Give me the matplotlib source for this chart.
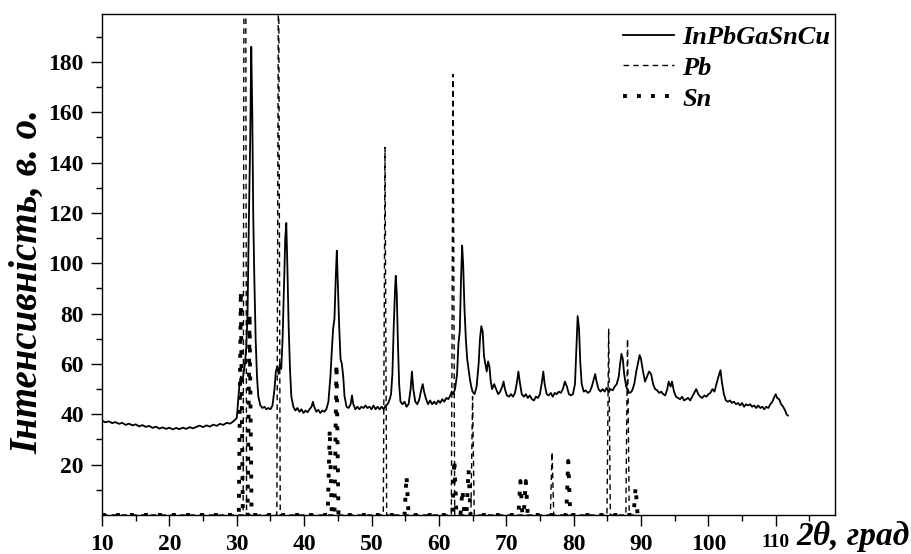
import matplotlib
matplotlib.use("Agg")
import matplotlib.pyplot as plt
import numpy as np

# Дифрактограма зразка InPbGaSnCu (точки)
theta_exp = [10, 10.5, 11, 11.5, 12, 12.5, 13, 13.5, 14, 14.5, 15, 15.5, 16, 16.5, 17, 17.5, 18, 18.5, 19, 19.5,
             20, 20.5, 21, 21.5, 22, 22.5, 23, 23.5, 24, 24.5, 25, 25.5, 26, 26.5, 27, 27.5, 28, 28.5, 29, 29.5,
             30, 30.2, 30.4, 30.6, 30.8, 31.0, 31.2, 31.4, 31.6, 31.8, 32.0, 32.15, 32.3, 32.45, 32.6, 32.8,
             33.0, 33.2, 33.5, 33.8, 34.1, 34.4, 34.7, 35.0, 35.3, 35.6, 35.8, 36.0, 36.2, 36.4, 36.6, 36.8,
             37.0, 37.2, 37.35, 37.5, 37.7, 37.9, 38.1, 38.4, 38.7, 39.0, 39.3, 39.6, 39.9, 40.2, 40.5, 40.8,
             41.1, 41.3, 41.5, 41.8, 42.1, 42.4, 42.7, 43.0, 43.3, 43.6, 43.9, 44.1, 44.3, 44.5, 44.7, 44.85,
             45.0, 45.2, 45.4, 45.6, 45.8, 46.0, 46.3, 46.6, 46.9, 47.1, 47.3, 47.6, 47.9, 48.2, 48.5, 48.8,
             49.1, 49.4, 49.7, 50.0, 50.3, 50.6, 50.9, 51.2, 51.5, 51.8, 52.1, 52.4, 52.7, 52.9, 53.1, 53.3,
             53.5, 53.6, 53.75, 53.9, 54.1, 54.3, 54.6, 54.9, 55.2, 55.5, 55.8, 56.0, 56.2, 56.5, 56.8, 57.1,
             57.4, 57.6, 57.8, 58.1, 58.4, 58.7, 59.0, 59.3, 59.6, 59.9, 60.2, 60.5, 60.8, 61.1, 61.4, 61.7,
             61.9, 62.1, 62.4, 62.7, 62.9, 63.1, 63.3, 63.45, 63.6, 63.8, 64.0, 64.2, 64.4, 64.6, 64.8, 65.0,
             65.3, 65.6, 65.9, 66.1, 66.3, 66.5, 66.7, 66.9, 67.1, 67.3, 67.5, 67.7, 67.9, 68.2, 68.5, 68.8,
             69.1, 69.4, 69.6, 69.8, 70.1, 70.4, 70.7, 71.0, 71.3, 71.6, 71.8, 72.0, 72.3, 72.6, 72.9, 73.2,
             73.5, 73.8, 74.1, 74.4, 74.7, 75.0, 75.3, 75.5, 75.7, 76.0, 76.3, 76.6, 76.9, 77.2, 77.5, 77.8,
             78.1, 78.4, 78.7, 79.0, 79.3, 79.6, 79.9, 80.2, 80.4, 80.6, 80.8, 81.0, 81.2, 81.5, 81.8, 82.1,
             82.4, 82.7, 83.0, 83.2, 83.4, 83.7, 84.0, 84.3, 84.6, 84.9, 85.2, 85.5, 85.8, 86.1, 86.4, 86.7,
             86.9, 87.1, 87.3, 87.5, 87.8, 88.1, 88.4, 88.7, 89.0, 89.3, 89.6, 89.8, 90.0, 90.3, 90.6, 90.9,
             91.2, 91.5, 91.8, 92.1, 92.4, 92.7, 93.0, 93.3, 93.6, 93.9, 94.1, 94.4, 94.6, 94.9, 95.2, 95.5,
             95.8, 96.1, 96.4, 96.7, 97.0, 97.3, 97.6, 97.9, 98.2, 98.5, 98.8, 99.1, 99.4, 99.7, 100.0, 100.3,
             100.6, 100.9, 101.2, 101.5, 101.8, 102.0, 102.3, 102.6, 102.9, 103.2, 103.5, 103.8, 104.1, 104.4,
             104.7, 105.0, 105.3, 105.6, 105.9, 106.2, 106.5, 106.8, 107.1, 107.4, 107.7, 108.0, 108.3, 108.6,
             108.9, 109.2, 109.5, 109.8, 110.0, 110.2, 110.5, 110.8, 111.1, 111.4, 111.6, 111.8]
int_exp = [37.5, 36.8, 37.2, 36.5, 36.9, 36.2, 36.6, 35.8, 36.3, 35.6, 36.0, 35.2, 35.7, 35.0, 35.4, 34.6, 35.1, 34.3, 34.8, 34.2,
           34.7, 34.0, 34.6, 34.1, 34.7, 34.2, 34.9, 34.4, 35.0, 35.5, 34.9, 35.6, 35.1, 35.9, 35.4, 36.2, 35.8, 36.6, 36.3, 37.2,
           38.5, 45, 52, 55, 53, 56, 60, 66, 80, 118, 150, 186, 160, 118, 95, 70,
           55, 47, 43.5, 42.5, 43, 42, 42.5, 42, 43.5, 50, 57, 59, 56, 60, 58, 70,
           90, 110, 116, 100, 75, 58, 47, 43, 41.5, 42.5, 41, 42, 40.5, 41.5, 40.8, 42,
           43, 45, 43, 41, 41.8, 40.5, 41.5, 41, 42, 45, 55, 65, 74, 78, 95, 105,
           92, 75, 62, 60, 55, 47, 43, 42.5, 44, 47.5, 44, 42, 43, 42, 43, 42.5,
           43.5, 42.5, 43, 42, 43.5, 42, 43, 42, 43, 42, 43.5, 44, 46, 48, 56, 75,
           90, 95, 88, 70, 52, 45, 44, 45, 43, 44, 50, 57, 50, 45, 44, 46,
           50, 52, 49, 46, 44, 45.5, 44, 45, 44, 45.5, 44.5, 46, 45, 46.5, 46, 47.5,
           49, 48, 50, 56, 68, 73, 95, 107, 100, 82, 70, 62, 58, 54, 51, 49,
           48, 51, 60, 70, 75, 73, 63, 60, 57, 61, 59, 53, 50, 52, 50, 48,
           49, 51, 53, 50, 47.5, 47, 48, 47, 48.5, 53, 57, 53, 48, 47, 48, 46.5,
           47.5, 46, 45.5, 47, 46.5, 48, 53, 57, 52, 48, 47.5, 48.5, 47, 48.5, 48, 49,
           48.5, 50, 53, 51, 48, 47.5, 48, 52, 65, 79, 74, 60, 52, 49, 49.5, 48.5,
           49, 51, 54, 56, 53, 50, 49, 50, 49, 50.5, 49, 50, 49.5, 51, 52, 55,
           60, 64, 62, 56, 51, 49, 48.5, 49.5, 52, 57, 61, 63.5, 62, 57, 53, 55,
           57, 56, 52, 50, 49.5, 48.5, 49, 48, 47.5, 50, 53, 51, 53, 49, 47, 46.5,
           46, 47, 45.5, 46, 46.5, 45.5, 47, 48.5, 50, 48, 47, 46.5, 47.5, 47, 48, 48.5,
           50, 49, 52, 55, 57.5, 53, 48, 45.5, 45, 45.5, 44.5, 45, 44, 44.5,
           43.5, 44.5, 43, 44, 43.5, 44, 43, 43.5, 42.5, 43.5, 42.5, 43, 42, 43,
           42.5, 44, 45, 47, 48, 46.5, 46, 44, 43, 41.5, 40, 39.5]

# Еталонні лінії Pb
pb_pos = [31.2, 36.2, 52.0, 62.1, 65.0, 76.8, 85.2, 88.0]
pb_int = [470, 235, 146, 175, 47, 25, 74, 70]

# Еталонні лінії Sn
sn_pos = [30.6, 31.9, 43.8, 44.8, 55.2, 62.3, 63.5, 64.4, 72.1, 72.9, 79.2, 89.2]
sn_int = [89, 80, 34, 60, 15.5, 22, 10, 18, 13.5, 13.5, 21.5, 11]


def stick_profile(pos, inten, x0, x1, hw):
    xs = [x0]
    ys = [0]
    for p, h in zip(pos, inten):
        xs += [p - hw, p, p + hw]
        ys += [0, h, 0]
    xs.append(x1)
    ys.append(0)
    return xs, ys


plt.rcParams['font.family'] = ['Liberation Serif', 'DejaVu Serif']
plt.rcParams['font.weight'] = 'bold'

fig = plt.figure(figsize=(9.11, 5.54), dpi=100)
ax = fig.add_axes([0.112, 0.0704, 0.8046, 0.9043])

ax.plot(theta_exp, int_exp, color='black', lw=1.3, label='InPbGaSnCu')
pbx, pby = stick_profile(pb_pos, pb_int, 10, 89, 0.25)
ax.plot(pbx, pby, color='black', lw=1.0, linestyle=(0, (4, 3)), label='Pb')
snx, sny = stick_profile(sn_pos, sn_int, 10, 90, 0.3)
ax.plot(snx, sny, color='black', lw=2.8, linestyle=(0, (1, 2.6)), label='Sn')

ax.set_xlim(10, 118.8)
ax.set_ylim(0, 199)
ax.set_xticks(np.arange(10, 111, 10))
ax.set_xticks(np.arange(15, 116, 10), minor=True)
ax.set_yticks(np.arange(20, 181, 20))
ax.set_yticks(np.arange(10, 191, 20), minor=True)
ax.tick_params(axis='both', which='major', length=8, width=1, labelsize=17, pad=5)
ax.tick_params(axis='x', which='major', pad=6)
ax.tick_params(axis='both', which='minor', length=4, width=1)
for lab in ax.get_xticklabels() + ax.get_yticklabels():
    lab.set_fontweight('bold')
ax.get_xticklabels()[-1].set_fontsize(14)
for s in ax.spines.values():
    s.set_linewidth(1.0)

ax.set_ylabel('Інтенсивність, в. о.', fontsize=28, fontweight='bold', fontstyle='italic')
ax.yaxis.set_label_coords(-0.076, 0.465)
fig.text(0.999, 0.004, '2θ, град', fontsize=24, fontweight='bold', fontstyle='italic',
         ha='right', va='bottom')

leg = ax.legend(loc='upper right', bbox_to_anchor=(1.009, 1.0), frameon=False,
                handlelength=1.95, handletextpad=0.3,
                labelspacing=0.28, borderaxespad=0.1, borderpad=0.33,
                prop={'family': 'Liberation Serif', 'weight': 'bold', 'style': 'italic', 'size': 19})

fig.savefig('out.png', dpi=100)
